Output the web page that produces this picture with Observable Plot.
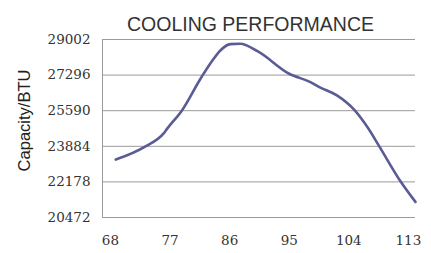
<!DOCTYPE html>
<html>
<head>
<meta charset="utf-8">
<script src="https://cdn.jsdelivr.net/npm/d3@7"></script>
<script src="https://cdn.jsdelivr.net/npm/@observablehq/plot@0.6"></script>
<style>
  html, body { margin: 0; padding: 0; background: #fff; }
  #chart { width: 431px; height: 253px; }
</style>
</head>
<body>
<div id="chart"></div>
<script>
const title = "COOLING PERFORMANCE";
const yLabel = "Capacity/BTU";
const xTicks = [68, 77, 86, 95, 104, 113];
const yTicks = [20472, 22178, 23884, 25590, 27296, 29002];
const temps = [68.8, 73.3, 76.0, 76.6, 78.8, 81.6, 83.4, 84.6, 86.1, 87.6, 90.2, 95.0, 98.2, 99.7, 102.2, 104.8, 106.8, 108.6, 111.8, 114.07];
const capacity = [23247, 23883, 24491, 24744, 25605, 27122, 27997, 28476, 28780, 28800, 28442, 27360, 26959, 26700, 26323, 25639, 24806, 23883, 22209, 21218];

const data = temps.map((t, i) => ({t, c: capacity[i]}));

const chart = Plot.plot({
  width: 431,
  height: 253,
  marginLeft: 102,
  marginRight: 16,
  marginTop: 39,
  marginBottom: 36,
  style: {fontFamily: "'DejaVu Serif', serif", fontSize: "13.5px", color: "#333", background: "#fff"},
  x: {domain: [66.8, 114.07], ticks: xTicks, tickSize: 0, tickPadding: 18, label: null, tickFormat: d => String(d)},
  y: {domain: [20472, 29002], ticks: yTicks, tickSize: 0, tickPadding: 12, label: null, tickFormat: d => String(d)},
  marks: [
    Plot.ruleY(yTicks, {stroke: "#9a9a9a", strokeWidth: 1}),
    Plot.ruleX([66.8], {stroke: "#9a9a9a", strokeWidth: 1}),
    Plot.line(data, {x: "t", y: "c", stroke: "#5b5b95", strokeWidth: 2.6, curve: "monotone-x"}),
    Plot.text([title], {frameAnchor: "top", dx: -8.5, dy: -22, text: d => d, fontFamily: "'Liberation Sans', Arial, sans-serif", fontSize: 19.5, fill: "#333"}),
    Plot.text([yLabel], {frameAnchor: "left", textAnchor: "middle", dx: -78, dy: -8, rotate: -90, text: d => d, fontFamily: "'Liberation Sans', Arial, sans-serif", fontSize: 16.5, fill: "#222"})
  ]
});
document.getElementById("chart").appendChild(chart);
</script>
</body>
</html>
